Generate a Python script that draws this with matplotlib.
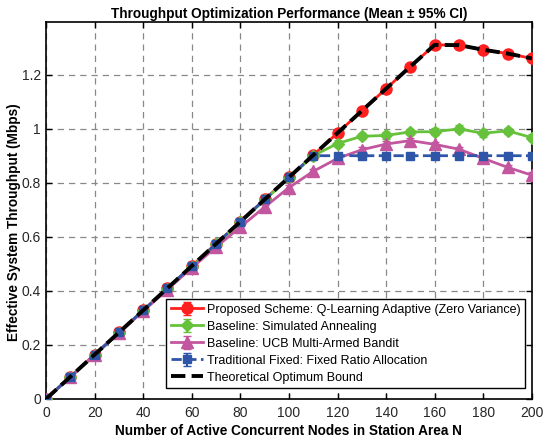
import matplotlib
matplotlib.use("Agg")
import matplotlib.pyplot as plt
import numpy as np

plt.rcParams['font.family'] = ['Liberation Sans', 'DejaVu Sans']

N = [0, 10, 20, 30, 40, 50, 60, 70, 80, 90, 100, 110, 120, 130, 140, 150, 160, 170, 180, 190, 200]
proposed = [0.0, 0.082, 0.164, 0.246, 0.328, 0.41, 0.492, 0.574, 0.656, 0.738, 0.82, 0.902,
            0.984, 1.066, 1.148, 1.23, 1.31, 1.309, 1.292, 1.278, 1.26]
sa = [0.0, 0.080, 0.162, 0.244, 0.326, 0.408, 0.490, 0.572, 0.654, 0.736, 0.818, 0.900,
      0.945, 0.972, 0.975, 0.988, 0.989, 0.999, 0.983, 0.992, 0.967]
sa_err = [0.0, 0.006, 0.006, 0.007, 0.007, 0.008, 0.008, 0.008, 0.009, 0.009, 0.01, 0.01,
          0.012, 0.012, 0.012, 0.012, 0.012, 0.013, 0.012, 0.012, 0.012]
ucb = [0.0, 0.081, 0.163, 0.244, 0.325, 0.405, 0.485, 0.562, 0.636, 0.710, 0.782, 0.842,
       0.890, 0.922, 0.943, 0.956, 0.942, 0.924, 0.890, 0.857, 0.828]
ucb_err = [0.0, 0.005, 0.005, 0.006, 0.006, 0.006, 0.007, 0.007, 0.007, 0.008, 0.008, 0.009,
           0.009, 0.01, 0.01, 0.01, 0.01, 0.01, 0.01, 0.01, 0.01]
fixed = [0.0, 0.082, 0.164, 0.246, 0.328, 0.41, 0.492, 0.574, 0.656, 0.738, 0.82, 0.90,
         0.90, 0.90, 0.90, 0.90, 0.90, 0.90, 0.90, 0.90, 0.90]
fixed_err = [0.0, 0.004, 0.004, 0.004, 0.004, 0.005, 0.005, 0.005, 0.005, 0.005, 0.005, 0.006,
             0.006, 0.006, 0.006, 0.006, 0.006, 0.006, 0.006, 0.006, 0.006]
optimum = [0.0, 0.082, 0.164, 0.246, 0.328, 0.41, 0.492, 0.574, 0.656, 0.738, 0.82, 0.902,
           0.984, 1.066, 1.148, 1.23, 1.31, 1.309, 1.292, 1.278, 1.26]

labels = ["Proposed Scheme: Q-Learning Adaptive (Zero Variance)",
          "Baseline: Simulated Annealing",
          "Baseline: UCB Multi-Armed Bandit",
          "Traditional Fixed: Fixed Ratio Allocation",
          "Theoretical Optimum Bound"]
xticks = [0, 20, 40, 60, 80, 100, 120, 140, 160, 180, 200]
yticks = [0, 0.2, 0.4, 0.6, 0.8, 1.0, 1.2]
yticklabels = ["0", "0.2", "0.4", "0.6", "0.8", "1", "1.2"]

c_red = '#FF1F1F'
c_green = '#66C23A'
c_pink = '#C2569F'
c_blue = '#2F55A8'

fig = plt.figure(figsize=(5.5, 4.47), dpi=100)
ax = fig.add_axes([0.0836, 0.1074, 0.8834, 0.8436])

h1 = ax.errorbar(N, proposed, yerr=np.zeros(len(N)), color=c_red, marker='o', markersize=8,
                 linewidth=2, capsize=3, elinewidth=1.5, label=labels[0], zorder=3)
h2 = ax.errorbar(N, sa, yerr=sa_err, color=c_green, marker='D', markersize=6.5,
                 linewidth=2, capsize=3, elinewidth=1.5, label=labels[1], zorder=3)
h3 = ax.errorbar(N, ucb, yerr=ucb_err, color=c_pink, marker='^', markersize=8,
                 linewidth=2, capsize=3, elinewidth=1.5, label=labels[2], zorder=3)
h4 = ax.errorbar(N, fixed, yerr=fixed_err, color=c_blue, marker='s', markersize=6,
                 linewidth=2, linestyle='--', capsize=3, elinewidth=1.5, label=labels[3], zorder=3)
h5, = ax.plot(N, optimum, color='black', linestyle='--', linewidth=2.8, label=labels[4], zorder=4)

ax.set_xlim(0, 200)
ax.set_ylim(0, 1.395)
ax.set_xticks(xticks)
ax.set_yticks(yticks)
ax.set_yticklabels(yticklabels)
ax.tick_params(direction='in', top=True, right=True, labelsize=10, length=4, width=1,
               labelcolor='#262626')
ax.tick_params(axis='x', pad=5)
ax.grid(True, linestyle=(0, (5, 4)), color='#888888', linewidth=0.9)
for s in ax.spines.values():
    s.set_linewidth(1.2)

ax.set_xlabel("Number of Active Concurrent Nodes in Station Area N", fontsize=9.8,
              fontweight='bold', labelpad=3)
ax.set_ylabel("Effective System Throughput (Mbps)", fontsize=9.8, fontweight='bold')
ax.yaxis.set_label_coords(-0.052, 0.47)
ax.set_title("Throughput Optimization Performance (Mean \u00b1 95% CI)", fontsize=9.8,
             fontweight='bold', pad=3)

leg = ax.legend(handles=[h1, h2, h3, h4, h5], labels=labels, loc='lower right',
                bbox_to_anchor=(0.9856, 0.029), fontsize=9.0, frameon=True, fancybox=False,
                edgecolor='black', framealpha=1, borderpad=0.35, labelspacing=0.4,
                handlelength=2.6, handletextpad=0.3, borderaxespad=0)
leg.get_frame().set_linewidth(1.0)

fig.savefig("out.png", dpi=100)
